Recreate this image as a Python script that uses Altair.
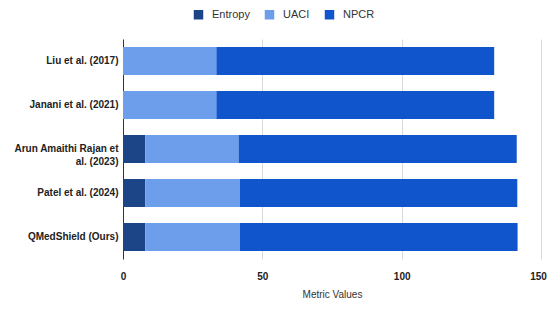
import altair as alt
import pandas as pd

studies = ["Liu et al. (2017)", "Janani et al. (2021)", "Arun Amaithi Rajan et al. (2023)",
           "Patel et al. (2024)", "QMedShield (Ours)"]
metrics = ["Entropy", "UACI", "NPCR"]
entropy = [0.0, 0.0, 7.99, 7.99, 7.99]
uaci = [33.5, 33.5, 33.5, 33.9, 33.9]
npcr = [99.7, 99.7, 99.8, 99.6, 99.7]
colors = ["#1c4587", "#6d9eeb", "#1155cc"]

rows = []
for i, s in enumerate(studies):
    for j, (m, vals) in enumerate(zip(metrics, [entropy, uaci, npcr])):
        rows.append({"Study": s, "Metric": m, "Value": vals[i], "ord": j})
df = pd.DataFrame(rows)

label_expr = ("datum.label == 'Arun Amaithi Rajan et al. (2023)' ? "
              "['Arun Amaithi Rajan et', 'al. (2023)'] : datum.label")

chart = alt.Chart(df).mark_bar().encode(
    y=alt.Y("Study:N", sort=studies, title=None,
            scale=alt.Scale(paddingInner=0.364, paddingOuter=0.182),
            axis=alt.Axis(labelExpr=label_expr, labelFont="Liberation Sans", labelFontSize=10,
                          labelFontWeight="bold", labelColor="#222222", ticks=False,
                          domainColor="#333333", labelPadding=5, labelLineHeight=12.5)),
    x=alt.X("Value:Q", title="Metric Values", stack="zero",
            scale=alt.Scale(domain=[0, 150], nice=False),
            axis=alt.Axis(values=[0, 50, 100, 150], labelFont="Liberation Sans", labelFontSize=10,
                          labelFontWeight="bold", labelColor="#222222", ticks=False, domain=False,
                          labelFlush=False,
                          labelOffset=alt.condition("datum.value == 150", alt.value(-3), alt.value(0)),
                          gridColor="#d9d9d9", labelPadding=12, titlePadding=8,
                          titleFont="Liberation Sans", titleFontSize=10, titleFontWeight="normal",
                          titleColor="#333333")),
    color=alt.Color("Metric:N", sort=metrics,
                    scale=alt.Scale(domain=metrics, range=colors),
                    legend=alt.Legend(title=None, orient="none", direction="horizontal",
                                      legendX=70, legendY=-30, padding=0,
                                      symbolType="square", symbolSize=90, symbolStrokeWidth=0,
                                      labelFont="Liberation Sans", labelFontSize=11,
                                      labelColor="#333333", columnPadding=14, labelOffset=8)),
    order=alt.Order("ord:Q"),
).properties(
    width=418, height=220,
    autosize=alt.AutoSizeParams(type="none"),
    padding={"left": 115, "top": 31, "right": 6, "bottom": 43},
).configure_view(stroke=None)

chart.save("out.html", embed_options={"renderer": "svg", "actions": False})
